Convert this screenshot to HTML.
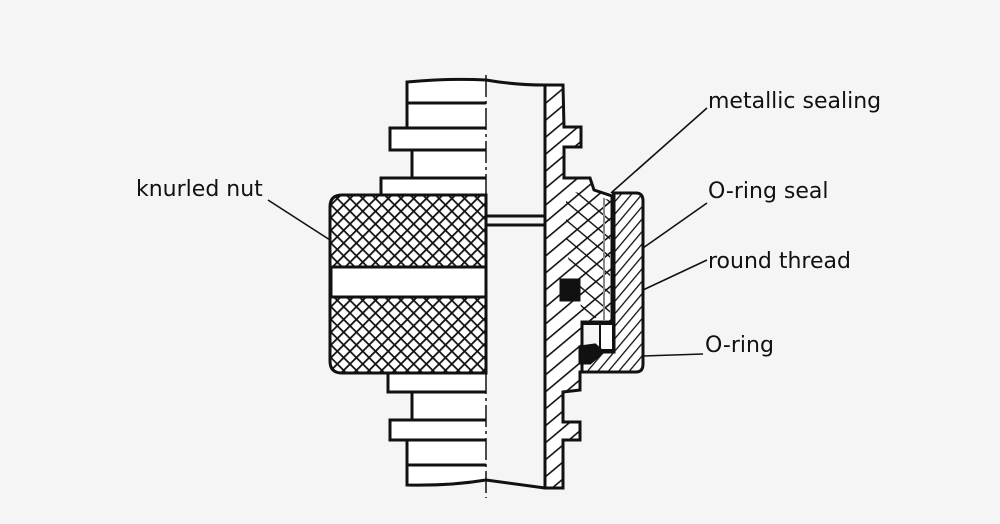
<!DOCTYPE html>
<html><head><meta charset="utf-8"><style>
html,body{margin:0;padding:0;background:#f5f5f5;}
svg{display:block}
text{font-family:"DejaVu Sans","Liberation Sans",sans-serif;font-size:22px;fill:#111}
</style></head><body>
<svg width="1000" height="524" viewBox="0 0 1000 524" xmlns="http://www.w3.org/2000/svg">
<defs>
<pattern id="knurl" width="9" height="9" patternUnits="userSpaceOnUse" patternTransform="rotate(45)">
<rect width="9" height="9" fill="#fff"/>
<path d="M0 0V9M0 0H9" stroke="#111" stroke-width="3.6"/>
</pattern>
<pattern id="h1" width="13" height="13" patternUnits="userSpaceOnUse" patternTransform="rotate(-40)">
<rect width="13" height="13" fill="#fff"/>
<path d="M0 0H13" stroke="#111" stroke-width="3.2"/>
</pattern>
<pattern id="h2" width="8" height="8" patternUnits="userSpaceOnUse" patternTransform="rotate(-50)">
<rect width="8" height="8" fill="#fff"/>
<path d="M0 0H8" stroke="#111" stroke-width="2.6"/>
</pattern>
<pattern id="h3" width="14" height="14" patternUnits="userSpaceOnUse" patternTransform="rotate(40)">
<rect width="14" height="14" fill="none"/>
<path d="M0 0H14" stroke="#111" stroke-width="2.8"/>
</pattern>
</defs>
<rect width="1000" height="524" fill="#f5f5f5"/>
<g stroke="#111" stroke-width="3" fill="none">
<path d="M407 82 Q450 78 486 80 V480 Q450 486 407 485 V440 H390 V420 H412 V392 H388 V373 H381 V193 H381 V178 H412 V150 H390 V128 H407 Z" fill="#fff" stroke="none"/>
<path d="M486 80 Q450 78 407 82 V128 H390 V150 H412 V178 H381 V195"/>
<path d="M388 373 V392 H412 V420 H390 V440 H407 V485 Q450 486 486 480"/>
<line x1="407" y1="103" x2="486" y2="103"/>
<line x1="407" y1="128" x2="486" y2="128"/>
<line x1="390" y1="150" x2="486" y2="150"/>
<line x1="381" y1="178" x2="486" y2="178"/>
<line x1="388" y1="392" x2="486" y2="392"/>
<line x1="390" y1="420" x2="486" y2="420"/>
<line x1="390" y1="440" x2="486" y2="440"/>
<line x1="407" y1="465" x2="486" y2="465"/>
<path d="M486 80 Q515 85 545 85 M545 488 Q515 484 486 480"/>
<line x1="486" y1="216" x2="545" y2="216"/>
<line x1="486" y1="225" x2="545" y2="225"/>
<path d="M342 195 H486 V373 H342 Q330 373 330 361 V207 Q330 195 342 195 Z" fill="url(#knurl)"/>
<rect x="331" y="267" width="155" height="30" fill="#fff"/>
<path d="M545 85 L563 85 L564 127 L581 127 L581 147 L564 147 L564 178 L590 178 L594 190 L612 196 L612 322 L582 322 L582 372 L580 372 L580 390 L563 392 L563 422 L580 422 L580 440 L563 440 L563 488 L545 488 Z" fill="url(#h1)"/>
<path d="M566 190 L610 200 L610 318 L584 318 L566 250 Z" fill="url(#h3)" stroke="none"/>
<line x1="604" y1="198" x2="604" y2="320" stroke="#888" stroke-width="2"/>
<path d="M612 193 H636 Q643 193 643 201 V364 Q643 372 636 372 H582 V352 H614 V193 Z" fill="url(#h2)"/>
<rect x="600" y="324" width="13" height="26" fill="#fff" stroke-width="2"/>
<line x1="582" y1="324" x2="612" y2="324" stroke-width="2"/>
<rect x="561" y="280" width="18" height="20" fill="#111"/>
<path d="M580 347 L595 345 L603 352 L590 363 L580 363 Z" fill="#111"/>
</g>
<line x1="486" y1="75" x2="486" y2="498" stroke="#111" stroke-width="1.5" stroke-dasharray="22 4 3 4"/>
<g stroke="#111" stroke-width="1.6">
<line x1="268" y1="200" x2="330" y2="240"/>
<line x1="707" y1="108" x2="611" y2="193"/>
<line x1="707" y1="203" x2="643" y2="248"/>
<line x1="707" y1="260" x2="643" y2="290"/>
<line x1="703" y1="354" x2="643" y2="356"/>
</g>
<text x="136" y="196">knurled nut</text>
<text x="708" y="108">metallic sealing</text>
<text x="708" y="198">O-ring seal</text>
<text x="708" y="268">round thread</text>
<text x="705" y="352">O-ring</text>
</svg>
</body></html>
